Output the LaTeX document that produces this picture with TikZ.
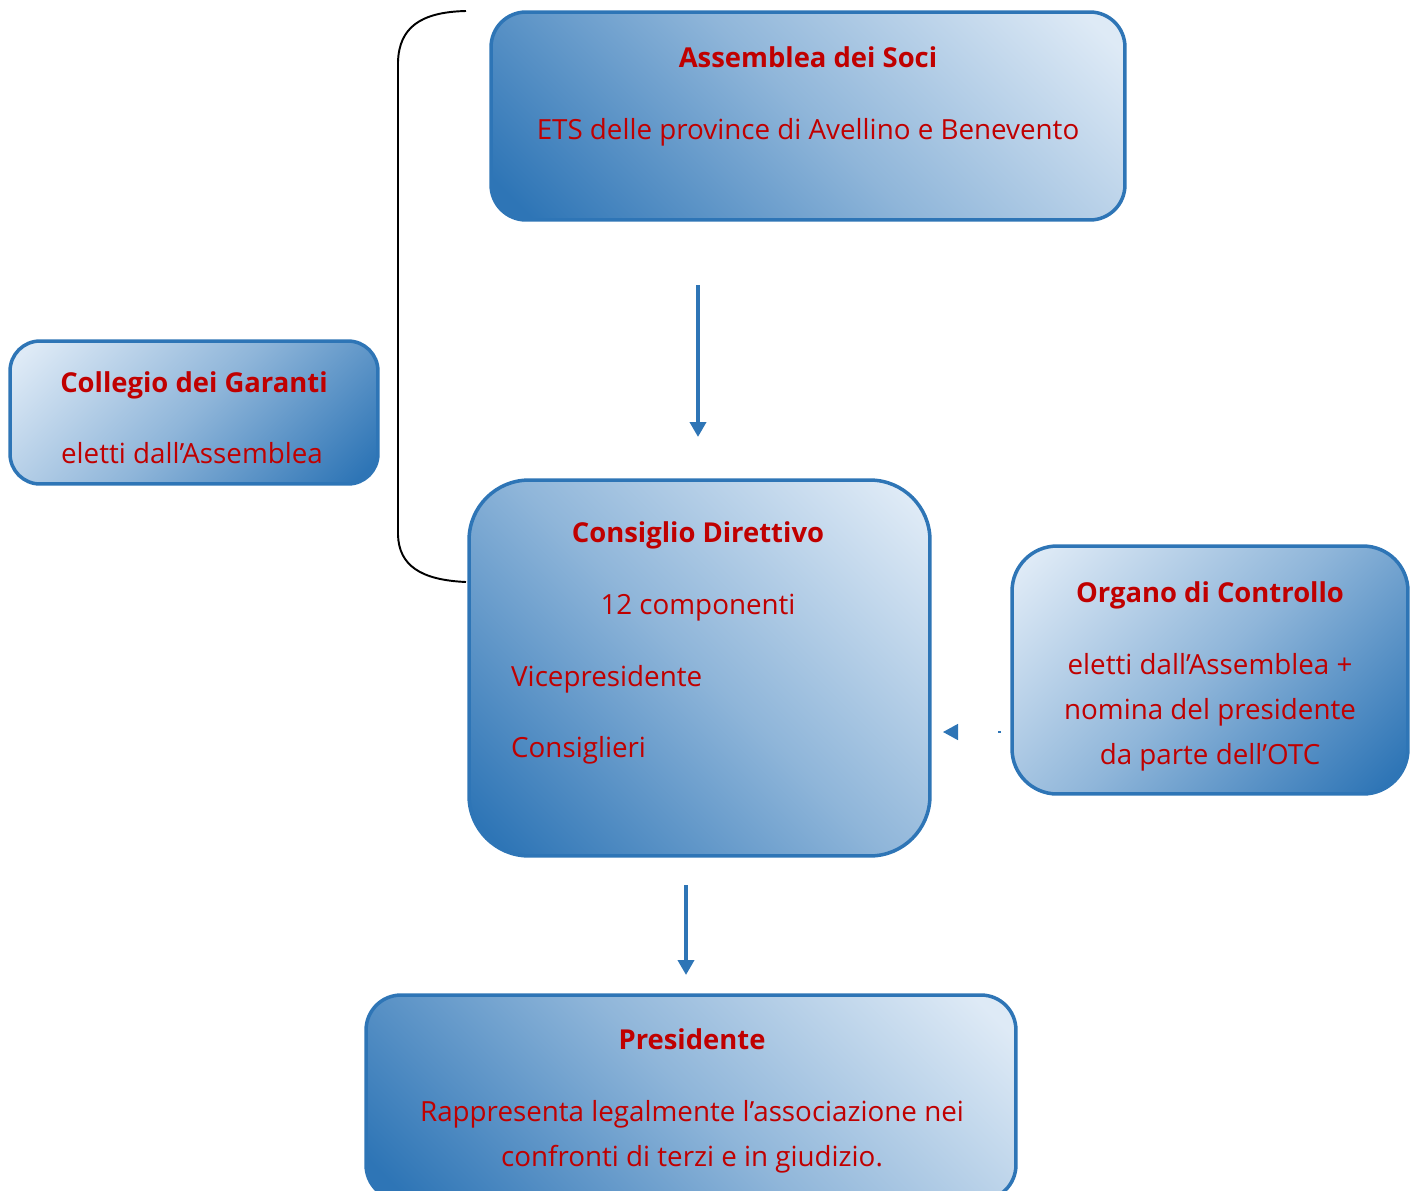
\documentclass[tikz,border=0pt]{standalone}
\usepackage{fontspec}
\setmainfont{Open Sans}
\usetikzlibrary{arrows.meta}
\definecolor{orgblue}{HTML}{2E75B6}
\definecolor{orglight}{HTML}{DEEAF6}
\definecolor{orgred}{HTML}{C00000}
\colorlet{orgmid}{orgblue!45!orglight}
\pgfdeclareverticalshading{orgsh}{100bp}{color(0bp)=(orgblue); color(18bp)=(orgblue); color(50bp)=(orgmid); color(82bp)=(orglight); color(100bp)=(orglight)}
\begin{document}
\begin{tikzpicture}[x=0.02cm,y=-0.02cm,
    organo/.style={draw=orgblue,line width=2pt,inner sep=0pt},
    darkbl/.style={shade,shading=orgsh,shading angle=-45},
    darkbr/.style={shade,shading=orgsh,shading angle=45},
    titolo/.style={anchor=base,text=orgred,font=\bfseries\fontsize{15.6}{18}\selectfont},
    riga/.style={anchor=base,text=orgred,font=\fontsize{15.8}{18}\selectfont},
    freccia/.style={draw=orgblue,line width=2.8pt,-{Triangle[length=0.3cm,width=0.32cm]}}]
    \useasboundingbox (0,0) rectangle (1416,1190);
    % riquadri
    \node[organo,darkbl,rounded corners=0.7cm,minimum width=12.68cm,minimum height=4.16cm] (assemblea) at (808,116) {};
    \node[organo,darkbr,rounded corners=0.6cm,minimum width=7.36cm,minimum height=2.86cm] (collegio) at (194,412.5) {};
    \node[organo,darkbl,rounded corners=1.2cm,minimum width=9.22cm,minimum height=7.52cm] (consiglio) at (699.5,668) {};
    \node[organo,darkbr,rounded corners=0.9cm,minimum width=7.92cm,minimum height=4.96cm] (organo) at (1210,670) {};
    \node[organo,darkbl,rounded corners=0.7cm,minimum width=13cm,minimum height=4.1cm] (presidente) at (691,1097.5) {};
    % testi
    \node[titolo] (assT) at (808,67) {Assemblea dei Soci};
    \node[riga] (assR) at (808,139) {ETS delle province di Avellino e Benevento};
    \node[titolo] (colT) at (194,392) {Collegio dei Garanti};
    \node[riga] (colR) at (192,463) {eletti dall’Assemblea};
    \node[titolo] (conT) at (698,542) {Consiglio Direttivo};
    \node[riga] (conA) at (698,614) {12 componenti};
    \node[riga,anchor=base west] (conB) at (505,686) {Vicepresidente};
    \node[riga,anchor=base west] (conC) at (505,757) {Consiglieri};
    \node[titolo] (orgT) at (1210,602) {Organo di Controllo};
    \node[riga] (orgA) at (1210,674) {eletti dall’Assemblea +};
    \node[riga] (orgB) at (1210,719) {nomina del presidente};
    \node[riga] (orgC) at (1210,764) {da parte dell’OTC};
    \node[titolo] (preT) at (692,1049) {Presidente};
    \node[riga] (preA) at (692,1121) {Rappresenta legalmente l’associazione nei};
    \node[riga] (preB) at (692,1166) {confronti di terzi e in giudizio.};
    % frecce
    \coordinate (a1) at (698,285);
    \coordinate (a2) at (698,437);
    \coordinate (b1) at (686,885);
    \coordinate (b2) at (686,975);
    \coordinate (c1) at (1001,732);
    \coordinate (c2) at (943,732);
    \draw[freccia] (a1) -- (a2);
    \draw[freccia] (b1) -- (b2);
    \draw[freccia,line width=0.8pt,dash pattern=on 1.5pt off 200pt] (c1) -- (c2);
    % parentesi
    \draw[line width=1.1pt] (466,11) .. controls (420,12) and (399,28) .. (398,62)
        -- (398,535) .. controls (399,565) and (420,580) .. (466,582);
\end{tikzpicture}
\end{document}
